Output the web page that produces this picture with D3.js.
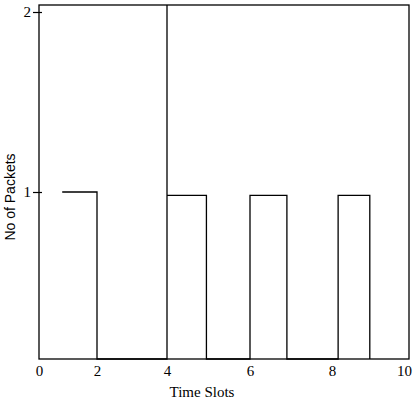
<!DOCTYPE html>
<html>
<head>
<meta charset="utf-8">
<script src="https://cdn.jsdelivr.net/npm/d3@7"></script>
<style>
  body { margin: 0; background: #fff; }
  .tick text { font-family: "Liberation Serif", "Times New Roman", serif; font-size: 15px; fill: #000; }
</style>
</head>
<body>
<div id="chart"></div>
<script>
// step trace (time slot, packets)
var slotX   = [0.8, 2, 2, 4, 4,    4,    4.95, 4.95, 6, 6,    6.9,  6.9, 8.17, 8.17, 9.05, 9.05];
var packets = [1,   1, 0, 0, 2.04, 0.98, 0.98, 0,    0, 0.98, 0.98, 0,   0,    0.98, 0.98, 0];
var xTicks = [0, 2, 4, 6, 8, 10];
var yTicks = [1, 2];

var width = 419, height = 400;
var margin = {top: 5, right: 409, bottom: 359, left: 39};

// the original axis is hand-spaced, so the scales are piecewise
var x = d3.scaleLinear()
    .domain([0, 2, 4, 6, 8, 10])
    .range([margin.left, 97, 167, 250, 332, 404]);

var y = d3.scaleLinear()
    .domain([0, 1, 2, 2.04])
    .range([margin.bottom, 192, 12, margin.top]);

var svg = d3.select("#chart").append("svg")
    .attr("width", width)
    .attr("height", height);

// plot frame
svg.append("rect")
    .attr("x", margin.left)
    .attr("y", margin.top)
    .attr("width", margin.right - margin.left)
    .attr("height", margin.bottom - margin.top)
    .attr("fill", "none")
    .attr("stroke", "#000")
    .attr("stroke-width", 1.3);

var xAxis = d3.axisBottom(x)
    .tickValues(xTicks)
    .tickSize(0)
    .tickPadding(6)
    .tickFormat(d3.format("d"));

svg.append("g")
    .attr("transform", "translate(0," + margin.bottom + ")")
    .call(xAxis)
    .call(function(g) { g.select(".domain").remove(); });

var yAxis = d3.axisLeft(y)
    .tickValues(yTicks)
    .tickSize(9)
    .tickPadding(2)
    .tickFormat(d3.format("d"));

svg.append("g")
    .attr("transform", "translate(42,0)")
    .call(yAxis)
    .call(function(g) { g.select(".domain").remove(); })
    .call(function(g) { g.selectAll(".tick line").attr("stroke", "#000").attr("stroke-width", 1.2); });

var pts = slotX.map(function(d, i) { return [d, packets[i]]; });

var line = d3.line()
    .x(function(d) { return x(d[0]); })
    .y(function(d) { return y(d[1]); });

svg.append("path")
    .datum(pts)
    .attr("d", line)
    .attr("fill", "none")
    .attr("stroke", "#000")
    .attr("stroke-width", 1.3);

svg.append("text")
    .attr("x", 202)
    .attr("y", 397)
    .attr("text-anchor", "middle")
    .style("font-family", "Liberation Serif, serif")
    .style("font-size", "15px")
    .text("Time Slots");

svg.append("text")
    .attr("transform", "translate(15,197) rotate(-90)")
    .attr("text-anchor", "middle")
    .style("font-family", "Liberation Sans, Arial, sans-serif")
    .style("font-size", "14px")
    .text("No of Packets");
</script>
</body>
</html>
